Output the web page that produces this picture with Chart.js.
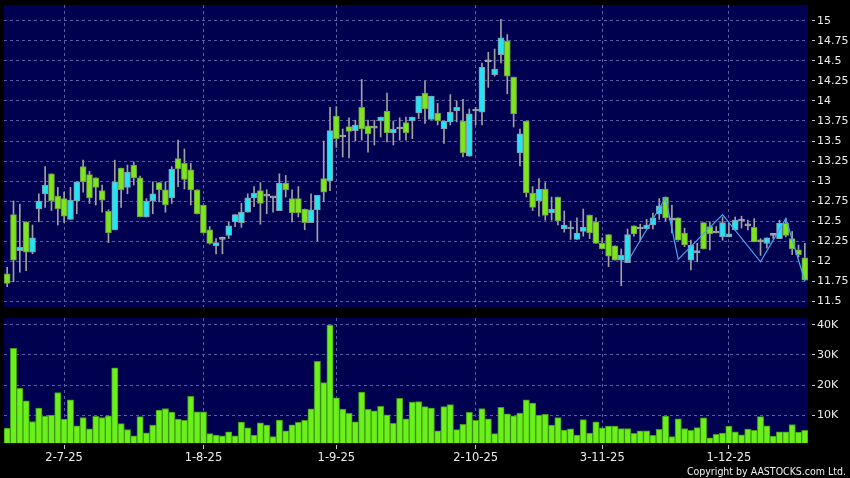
<!DOCTYPE html>
<html><head><meta charset="utf-8">
<script src="https://cdn.jsdelivr.net/npm/chart.js@4.4.1/dist/chart.umd.min.js"></script>
<style>
html,body{margin:0;padding:0;background:#000;width:850px;height:478px;overflow:hidden;}
#pc{position:absolute;left:0;top:0;}
#vc{position:absolute;left:0;top:312px;}
#copy{position:absolute;right:4px;top:465px;color:#f0f0f0;font:10.5px "DejaVu Sans Condensed";line-height:13px;white-space:nowrap;}
</style></head><body>
<canvas id="pc" width="850" height="312"></canvas>
<canvas id="vc" width="850" height="166"></canvas>
<div id="copy">Copyright by AASTOCKS.com Ltd.</div>
<script>
// ---------- DATA ----------
const dates = [
"18-6-25","19-6-25","20-6-25","23-6-25","24-6-25","25-6-25","26-6-25","27-6-25","30-6-25",
"2-7-25","3-7-25","4-7-25","7-7-25","8-7-25","9-7-25","10-7-25","11-7-25","14-7-25","15-7-25","16-7-25","17-7-25","18-7-25","21-7-25","22-7-25","23-7-25","24-7-25","25-7-25","28-7-25","29-7-25","30-7-25","31-7-25",
"1-8-25","4-8-25","5-8-25","6-8-25","7-8-25","8-8-25","11-8-25","12-8-25","13-8-25","14-8-25","15-8-25","18-8-25","19-8-25","20-8-25","21-8-25","22-8-25","25-8-25","26-8-25","27-8-25","28-8-25","29-8-25",
"1-9-25","2-9-25","3-9-25","4-9-25","5-9-25","8-9-25","9-9-25","10-9-25","11-9-25","12-9-25","15-9-25","16-9-25","17-9-25","18-9-25","19-9-25","22-9-25","23-9-25","24-9-25","25-9-25","26-9-25","29-9-25","30-9-25",
"2-10-25","3-10-25","6-10-25","8-10-25","9-10-25","10-10-25","13-10-25","14-10-25","15-10-25","16-10-25","17-10-25","20-10-25","21-10-25","22-10-25","23-10-25","24-10-25","27-10-25","28-10-25","30-10-25","31-10-25",
"3-11-25","4-11-25","5-11-25","6-11-25","7-11-25","10-11-25","11-11-25","12-11-25","13-11-25","14-11-25","17-11-25","18-11-25","19-11-25","20-11-25","21-11-25","24-11-25","25-11-25","26-11-25","27-11-25","28-11-25",
"1-12-25","2-12-25","3-12-25","4-12-25","5-12-25","8-12-25","9-12-25","10-12-25","11-12-25","12-12-25","15-12-25","16-12-25","17-12-25"
];
const tickLabels = ["2-7-25","1-8-25","1-9-25","2-10-25","3-11-25","1-12-25"];

const opens = [
11.84,12.58,12.13,12.49,12.11,12.65,12.84,13.09,12.81,12.78,
12.52,12.75,13.18,13.08,13.04,12.88,12.62,12.39,13.16,12.92,
13.20,13.04,12.55,12.75,12.98,12.89,12.79,13.28,13.22,13.14,
12.89,12.70,12.39,12.19,12.27,12.32,12.49,12.48,12.61,12.79,
12.88,12.81,12.79,12.63,12.975,12.78,12.78,12.65,12.48,12.64,
13.03,13.00,13.81,13.55,13.68,13.63,13.92,13.69,13.66,13.75,
13.875,13.60,13.65,13.73,13.75,13.85,14.10,13.77,13.85,13.65,
13.74,13.875,13.75,13.31,13.875,13.86,14.49,14.33,14.58,14.75,
14.30,13.35,13.75,12.85,12.75,12.90,12.60,12.80,12.40,12.40,
12.27,12.37,12.575,12.49,12.22,12.33,12.19,12.01,11.98,12.44,
12.40,12.40,12.45,12.59,12.80,12.51,12.54,12.35,12.01,12.10,
12.48,12.43,12.35,12.30,12.30,12.39,12.50,12.44,12.42,12.24,
12.22,12.32,12.28,12.47,12.28,12.14,12.04];
const highs = [
11.92,12.75,12.71,12.49,12.45,12.84,13.18,13.09,12.92,12.86,
12.92,12.99,13.26,13.12,13.04,12.95,12.64,13.26,13.16,13.20,
13.24,13.06,12.78,12.99,12.98,12.99,13.18,13.51,13.40,13.22,
12.89,12.70,12.43,12.28,12.30,12.49,12.58,12.72,12.84,12.93,
12.98,12.89,12.80,13.09,13.07,12.89,12.93,12.65,12.84,12.82,
13.50,13.92,13.93,13.65,13.79,13.76,14.27,13.76,13.76,13.80,
14.10,13.75,13.79,13.80,13.80,14.06,14.25,14.06,13.97,13.75,
14.08,14.00,14.02,13.90,13.92,14.475,14.61,14.65,15.02,14.83,
14.30,13.65,13.75,12.93,13.03,12.98,12.80,12.80,12.625,12.50,
12.54,12.65,12.575,12.54,12.29,12.33,12.19,12.15,12.40,12.44,
12.46,12.52,12.60,12.78,12.80,12.70,12.54,12.41,12.26,12.22,
12.48,12.49,12.43,12.55,12.47,12.55,12.56,12.51,12.53,12.28,
12.29,12.34,12.51,12.53,12.37,12.20,12.22];
const lows = [
11.68,11.74,11.86,11.88,12.09,12.49,12.67,12.63,12.45,12.48,
12.52,12.59,12.86,12.72,12.70,12.61,12.23,12.39,12.67,12.84,
12.95,12.55,12.55,12.59,12.74,12.61,12.72,12.93,12.90,12.70,
12.59,12.35,12.21,12.09,12.09,12.28,12.43,12.42,12.61,12.68,
12.46,12.59,12.61,12.63,12.80,12.49,12.55,12.39,12.48,12.25,
12.74,12.88,13.42,13.30,13.29,13.50,13.51,13.36,13.45,13.55,
13.49,13.45,13.51,13.51,13.53,13.78,13.72,13.77,13.70,13.47,
13.70,13.74,13.30,13.31,13.70,13.70,14.17,14.31,14.475,14.09,
13.675,13.19,12.80,12.63,12.56,12.51,12.51,12.45,12.36,12.27,
12.27,12.31,12.28,12.22,12.15,11.93,12.01,11.69,11.98,12.31,
12.26,12.40,12.40,12.52,12.50,12.35,12.26,12.18,11.89,11.99,
12.15,12.14,12.35,12.26,12.30,12.39,12.41,12.39,12.24,12.07,
12.16,12.28,12.28,12.30,12.08,12.05,11.76];
const closes = [
11.72,12.01,12.17,12.11,12.29,12.75,12.95,12.75,12.65,12.56,
12.76,12.99,12.99,12.79,12.92,12.76,12.35,12.99,12.89,13.11,
13.04,12.55,12.75,12.84,12.89,12.70,13.15,13.15,13.02,12.89,
12.59,12.35,12.22,12.23,12.27,12.44,12.58,12.61,12.79,12.85,
12.72,12.81,12.79,12.975,12.89,12.60,12.60,12.48,12.64,12.82,
12.86,13.63,13.53,13.55,13.62,13.70,13.65,13.59,13.66,13.80,
13.60,13.65,13.65,13.60,13.80,14.06,13.90,14.06,13.75,13.75,
13.86,13.92,13.35,13.84,13.875,14.42,14.49,14.40,14.79,14.31,
13.84,13.59,12.85,12.67,12.90,12.57,12.65,12.50,12.45,12.42,
12.35,12.42,12.35,12.22,12.15,12.06,12.01,12.07,12.33,12.34,
12.40,12.45,12.54,12.69,12.54,12.51,12.26,12.20,12.20,12.13,
12.15,12.34,12.35,12.48,12.34,12.51,12.50,12.44,12.24,12.24,
12.29,12.32,12.47,12.32,12.15,12.08,11.76];
const volumes = [
5800,32200,19000,14800,8000,12400,9800,10100,17600,8800,
15200,6600,9300,5600,9700,9300,9900,25700,7300,5300,
3300,9600,4300,6800,11800,12300,11100,8800,8400,16300,
11200,11200,4000,3500,3300,4600,3300,7800,5900,3500,
7600,6800,3000,8500,4900,6900,7700,8400,12200,27900,
20900,39900,15800,12100,10700,7900,17700,12000,11500,13000,
10200,7400,15700,8900,14400,14600,12900,12400,4900,12900,
13600,5300,7100,11000,8400,12300,8900,4000,12700,10500,
9900,10800,15200,14100,10100,10400,6800,9300,5200,5600,
3500,8600,4200,7900,5900,6500,6500,5700,5700,4100,
4900,4900,3400,5400,9800,3000,8900,5700,5100,6000,
9200,2600,3800,4200,6500,4600,3600,5500,5100,9600,
6600,3200,4600,4600,7000,4500,5100];
const zigzagDates = ["7-11-25","17-11-25","19-11-25","28-11-25","8-12-25","12-12-25","17-12-25"];
const zigzagValues = [11.99,12.79,12.02,12.58,11.99,12.53,11.75];
const priceTicks = [11.5,11.75,12,12.25,12.5,12.75,13,13.25,13.5,13.75,14,14.25,14.5,14.75,15];
const volumeTicks = [10000,20000,30000,40000];

// ---------- STYLE ----------
const NAVY = '#000050';
const GRID = '#5c5ca4';
const TXT = '#ececec';
const FONT = 'DejaVu Sans';
const UP_FILL = '#24e3f2', UP_EDGE = '#8a98a8';
const DN_FILL = '#7ee41e', DN_EDGE = '#6a9a48';
const DOJI = '#a8a8a8', WICK = '#a0a0a0';

const bgPlugin = {
  id: 'bg',
  beforeDraw(c) {
    const {ctx, chartArea: a} = c;
    ctx.save();
    ctx.fillStyle = '#000';
    ctx.fillRect(0, 0, c.width, c.height);
    ctx.fillStyle = NAVY;
    ctx.fillRect(a.left, a.top, a.right - a.left, a.bottom - a.top);
    ctx.restore();
  }
};

const isLabelled = (i) => tickLabels.includes(dates[i]);

function xAxis(showLabels) {
  return {
    type: 'category',
    offset: true,
    grid: {
      offset: false,
      color: (ctx) => isLabelled(ctx.index) ? GRID : 'rgba(0,0,0,0)',
      tickColor: (ctx) => isLabelled(ctx.index) ? '#c8c8c8' : 'rgba(0,0,0,0)',
      drawTicks: showLabels,
      tickLength: 6,
      tickBorderDash: [0, 2, 4, 20],
      lineWidth: 1
    },
    border: {display: false, dash: [3, 3]},
    ticks: {
      display: showLabels,
      autoSkip: false,
      maxRotation: 0,
      minRotation: 0,
      padding: 2,
      color: TXT,
      font: {family: FONT, size: 11.5},
      callback: function (v) { const l = this.getLabelForValue(v); return tickLabels.includes(l) ? l : ''; }
    },
    afterFit: (s) => { s.height = showLabels ? 35 : 0; }
  };
}

function yAxis(min, max, tickVals, fmt) {
  return {
    position: 'right',
    min: min, max: max,
    afterBuildTicks: (s) => { s.ticks = tickVals.map(v => ({value: v})); },
    afterFit: (s) => { s.width = 42; s.paddingTop = 0; s.paddingBottom = 0; },
    grid: {
      color: GRID,
      tickColor: '#c8c8c8',
      tickLength: 7,
      tickBorderDash: [0, 4, 3, 20],
      lineWidth: 1
    },
    border: {display: false, dash: [3, 3]},
    ticks: {
      color: TXT,
      padding: 2,
      font: {family: FONT, size: 11, lineHeight: 0.5},
      callback: fmt
    }
  };
}

const bodyColor = opens.map((o, i) => closes[i] > o ? UP_FILL : (closes[i] < o ? DN_FILL : DOJI));
const edgeColor = opens.map((o, i) => closes[i] > o ? UP_EDGE : (closes[i] < o ? DN_EDGE : DOJI));

new Chart(document.getElementById('pc'), {
  type: 'bar',
  data: {
    labels: dates,
    datasets: [
      {
        type: 'line',
        data: zigzagDates.map((d, k) => ({x: d, y: zigzagValues[k]})),
        borderColor: '#45a8f2',
        borderWidth: 1.2,
        pointRadius: 0,
        tension: 0,
        order: 0
      },
      {
        data: opens.map((o, i) => [o, closes[i]]),
        backgroundColor: bodyColor,
        borderColor: edgeColor,
        borderWidth: 1,
        borderSkipped: false,
        barThickness: 6,
        minBarLength: 2,
        grouped: false,
        order: 1
      },
      {
        data: lows.map((l, i) => [l, highs[i]]),
        backgroundColor: WICK,
        borderWidth: 0,
        barThickness: 1,
        grouped: false,
        order: 2
      }
    ]
  },
  options: {
    responsive: false,
    animation: false,
    events: [],
    layout: {padding: {left: 4, top: 5, bottom: 5, right: 0}},
    plugins: {legend: {display: false}, tooltip: {enabled: false}},
    scales: {
      x: xAxis(false),
      y: yAxis(11.425, 15.2, priceTicks, (v) => String(v))
    }
  },
  plugins: [bgPlugin]
});

new Chart(document.getElementById('vc'), {
  type: 'bar',
  data: {
    labels: dates,
    datasets: [{
      data: volumes,
      backgroundColor: '#6cf01c',
      borderColor: '#3e9a14',
      borderWidth: 1,
      borderSkipped: false,
      barPercentage: 1,
      categoryPercentage: 1
    }]
  },
  options: {
    responsive: false,
    animation: false,
    events: [],
    layout: {padding: {left: 4, top: 6, bottom: 0, right: 0}},
    plugins: {legend: {display: false}, tooltip: {enabled: false}},
    scales: {
      x: xAxis(true),
      y: yAxis(900, 42200, volumeTicks, (v) => (v / 1000) + 'K')
    }
  },
  plugins: [bgPlugin]
});
</script>
</body></html>
